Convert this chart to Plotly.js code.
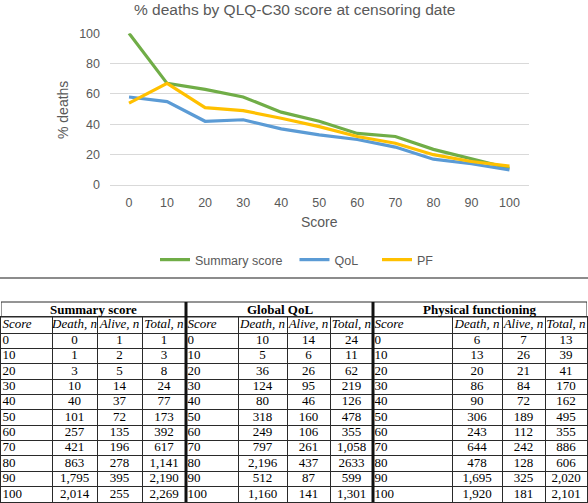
<!DOCTYPE html>
<html>
<head>
<meta charset="utf-8">
<script src="https://cdn.plot.ly/plotly-3.0.1.min.js"></script>
<style>html,body{margin:0;padding:0;background:#fff;}#chart{width:588px;height:503px;}</style>
</head>
<body>
<div id="chart"></div>
<script>
// ---- chart data ----
const scores = [0, 10, 20, 30, 40, 50, 60, 70, 80, 90, 100];
const summaryPct = [100, 67, 63, 58, 48, 42, 34, 32, 23.5, 17.5, 11];
const qolPct = [58, 55, 42, 43, 37, 33, 30, 25, 17, 14, 10];
const pfPct = [54, 67, 51, 49, 44, 38.5, 32, 27.5, 20, 15.5, 12.5];
const seriesNames = ['Summary score', 'QoL', 'PF'];

// ---- table data ----
const groupTitles = ['Summary score', 'Global QoL', 'Physical functioning'];
const headerLabels = ['Score', 'Death, n', 'Alive, n', 'Total, n'];
const tableScores = ['0', '10', '20', '30', '40', '50', '60', '70', '80', '90', '100'];
const summaryDeath = ['0', '1', '3', '10', '40', '101', '257', '421', '863', '1,795', '2,014'];
const summaryAlive = ['1', '2', '5', '14', '37', '72', '135', '196', '278', '395', '255'];
const summaryTotal = ['1', '3', '8', '24', '77', '173', '392', '617', '1,141', '2,190', '2,269'];
const qolDeath = ['10', '5', '36', '124', '80', '318', '249', '797', '2,196', '512', '1,160'];
const qolAlive = ['14', '6', '26', '95', '46', '160', '106', '261', '437', '87', '141'];
const qolTotal = ['24', '11', '62', '219', '126', '478', '355', '1,058', '2633', '599', '1,301'];
const pfDeath = ['6', '13', '20', '86', '90', '306', '243', '644', '478', '1,695', '1,920'];
const pfAlive = ['7', '26', '21', '84', '72', '189', '112', '242', '128', '325', '181'];
const pfTotal = ['13', '39', '41', '170', '162', '495', '355', '886', '606', '2,020', '2,101'];

const W = 588, H = 503;
const px = v => v / W;            // x pixel -> paper
const py = v => 1 - v / H;        // y pixel -> paper

const colors = ['#70AD47', '#5B9BD5', '#FFC000'];
const sansFont = 'Liberation Sans, Arial, sans-serif';
const serifFont = 'Liberation Serif, Times New Roman, serif';
const grey = '#595959';
const lineCol = '#2a2a2a';

const legendPad = ['\u00a0\u00a0', '\u00a0\u00a0\u00a0\u00a0', ''];
const traces = [];
[summaryPct, qolPct, pfPct].forEach((ys, i) => {
  traces.push({
    type: 'scatter', mode: 'lines', x: scores, y: ys, name: seriesNames[i] + legendPad[i],
    line: {color: colors[i], width: 3.2}, xaxis: 'x', yaxis: 'y', hoverinfo: 'skip'
  });
});

// ---- table layout (pixel grid used as the table's own axis scale) ----
const groupEdges = [1, 186, 373, 587];
const colEdges = [[1, 52, 97, 142, 186], [186, 238, 287, 330, 373], [373, 452, 502, 545, 587]];
const groupTop = 302, headTop = 317, headBottom = 333, tableBottom = 502;
const rowH = (tableBottom - headBottom) / tableScores.length;
const rowEdges = [headTop, headBottom];
for (let k = 1; k <= tableScores.length; k++) rowEdges.push(headBottom + k * rowH);
const rowCenters = tableScores.map((_, k) => headBottom + (k + 0.5) * rowH);
const headCenter = (headTop + headBottom) / 2;

const tableCols = [
  [tableScores, summaryDeath, summaryAlive, summaryTotal],
  [tableScores, qolDeath, qolAlive, qolTotal],
  [tableScores, pfDeath, pfAlive, pfTotal]
];
const cellFont = {family: serifFont, size: 13, color: '#000'};
tableCols.forEach((cols, g) => {
  cols.forEach((vals, c) => {
    const left = colEdges[g][c], right = colEdges[g][c + 1];
    const isScore = c === 0;
    const xc = isScore ? left + 1.5 : (left + right) / 2;
    traces.push({
      type: 'scatter', mode: 'text', xaxis: 'x2', yaxis: 'y2',
      x: [xc].concat(vals.map(() => xc)),
      y: [headCenter].concat(rowCenters),
      text: ['<i>' + headerLabels[c] + '</i>'].concat(vals),
      textposition: isScore ? 'middle right' : 'middle center',
      textfont: cellFont, cliponaxis: false, showlegend: false, hoverinfo: 'skip'
    });
  });
});

const innerColEdges = [];
colEdges.forEach(ce => ce.slice(1, -1).forEach(v => innerColEdges.push(v)));
innerColEdges.push(186, 373);

const shapes = [
  {type: 'line', xref: 'paper', yref: 'paper', x0: 0, x1: 1, y0: py(278), y1: py(278), line: {color: '#666', width: 1.5}}
];
const annotations = [
  {text: '% deaths by QLQ-C30 score at censoring date', xref: 'paper', yref: 'paper', x: 0.5, y: py(9),
   xanchor: 'center', yanchor: 'middle', showarrow: false, font: {family: sansFont, size: 15.5, color: grey}},
  {text: '% deaths', xref: 'paper', yref: 'paper', x: px(63), y: py(110), textangle: -90,
   xanchor: 'center', yanchor: 'middle', showarrow: false, font: {family: sansFont, size: 14, color: grey}},
  {text: 'Score', xref: 'paper', yref: 'paper', x: px(319), y: py(222),
   xanchor: 'center', yanchor: 'middle', showarrow: false, font: {family: sansFont, size: 14, color: grey}}
];
for (let g = 0; g < 3; g++) {
  shapes.push({type: 'rect', xref: 'x2', yref: 'paper', x0: groupEdges[g], x1: groupEdges[g + 1],
    y0: py(headTop), y1: py(groupTop), line: {color: lineCol, width: 1}, fillcolor: 'rgba(0,0,0,0)'});
  annotations.push({text: '<b>' + groupTitles[g] + '</b>', xref: 'x2', yref: 'paper',
    x: (groupEdges[g] + groupEdges[g + 1]) / 2, y: py((groupTop + headTop) / 2 - 0.5), xanchor: 'center', yanchor: 'middle',
    showarrow: false, font: {family: serifFont, size: 13, color: '#000'}});
}
[186, 373].forEach(xv => {
  shapes.push({type: 'line', xref: 'x2', yref: 'paper', x0: xv, x1: xv, y0: py(tableBottom), y1: py(groupTop),
    line: {color: '#111', width: 3}});
});

const layout = {
  width: W, height: H,
  margin: {l: 0, r: 0, t: 0, b: 0, pad: 0},
  paper_bgcolor: '#ffffff', plot_bgcolor: 'rgba(0,0,0,0)',
  showlegend: true,
  legend: {orientation: 'h', x: px(155), xanchor: 'left', y: py(260), yanchor: 'middle',
    font: {family: sansFont, size: 12.5, color: grey}, itemwidth: 30, bgcolor: 'rgba(0,0,0,0)'},
  xaxis: {domain: [px(110), px(528.5)], range: [-5, 105], tickvals: scores, ticktext: scores.map(String),
    showgrid: false, zeroline: false, showline: false, ticks: '', ticklabelstandoff: 8,
    tickfont: {family: sansFont, size: 12.5, color: grey}, fixedrange: true, anchor: 'y'},
  yaxis: {domain: [py(185), py(33.3)], range: [0, 100], tickvals: [0, 20, 40, 60, 80, 100],
    showgrid: true, gridcolor: '#d9d9d9', gridwidth: 1, zeroline: true, zerolinecolor: '#d9d9d9', zerolinewidth: 1,
    showline: false, ticks: '', ticklabelstandoff: 9,
    tickfont: {family: sansFont, size: 12.5, color: grey}, fixedrange: true, anchor: 'x'},
  xaxis2: {domain: [px(1), px(587)], range: [1, 587], anchor: 'y2', tickvals: innerColEdges,
    showticklabels: false, ticks: '', showgrid: true, gridcolor: lineCol, gridwidth: 1, zeroline: false,
    showline: true, mirror: true, linecolor: lineCol, linewidth: 1, fixedrange: true},
  yaxis2: {domain: [py(tableBottom), py(headTop)], range: [tableBottom, headTop], anchor: 'x2',
    tickvals: rowEdges.slice(1, -1), showticklabels: false, ticks: '', showgrid: true, gridcolor: lineCol,
    gridwidth: 1, zeroline: false, showline: true, mirror: true, linecolor: lineCol, linewidth: 1, fixedrange: true},
  shapes: shapes,
  annotations: annotations
};

Plotly.newPlot('chart', traces, layout, {displayModeBar: false, staticPlot: true});
</script>
</body>
</html>
